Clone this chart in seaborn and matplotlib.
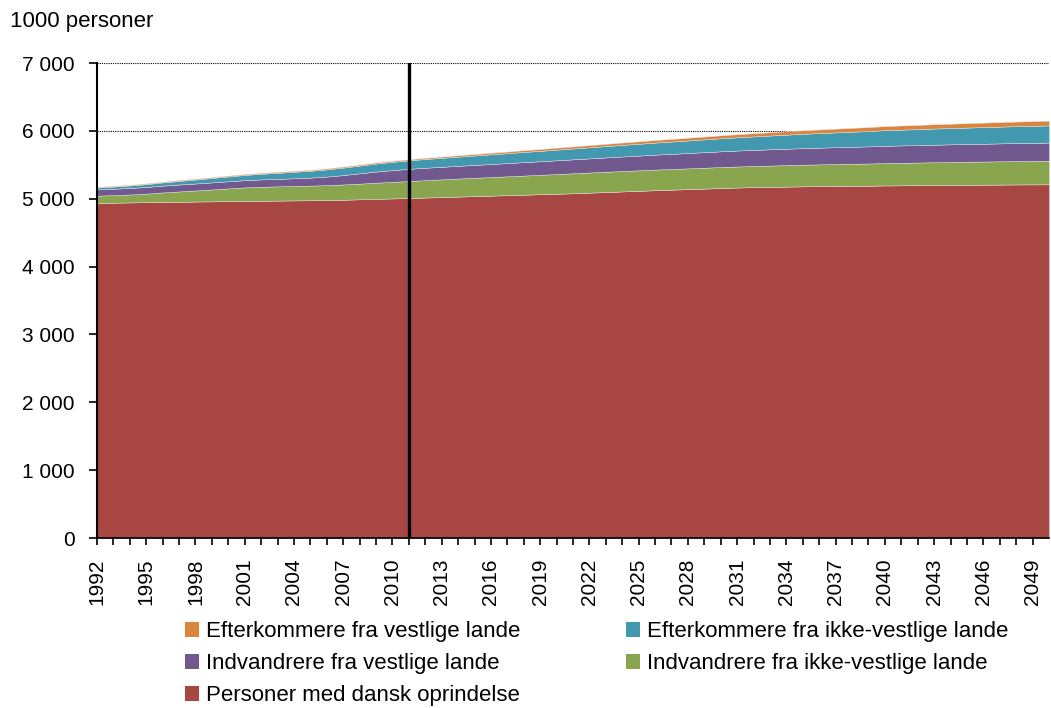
import matplotlib
matplotlib.use("Agg")
import matplotlib.pyplot as plt
import seaborn as sns
from matplotlib.patches import Patch

# år og befolkning (1000 personer)
years = list(range(1992, 2051))

dansk = [4937, 4941, 4945, 4949, 4952, 4955, 4958, 4961, 4964, 4967,
         4970, 4972, 4975, 4977, 4980, 4985, 4991, 4998, 5004, 5010,
         5017, 5024, 5031, 5038, 5045, 5052, 5059, 5066, 5073, 5080,
         5089, 5098, 5107, 5116, 5125, 5133, 5141, 5149, 5157, 5165,
         5170, 5174, 5178, 5182, 5185, 5188, 5190, 5192, 5195, 5197,
         5199, 5201, 5203, 5205, 5207, 5208, 5210, 5211, 5212]

indv_ikke_vest = [108, 112, 117, 125, 140, 152, 163, 175, 188, 200,
                  206, 210, 213, 216, 220, 225, 231, 238, 244, 250,
                  256, 261, 266, 270, 274, 278, 282, 286, 290, 295,
                  297, 299, 301, 302, 304, 305, 306, 308, 309, 310,
                  312, 314, 317, 319, 321, 323, 325, 327, 330, 332,
                  334, 336, 338, 340, 341, 343, 345, 346, 348]

indv_vest = [92, 94, 96, 99, 101, 102, 103, 104, 105, 106,
             108, 110, 113, 118, 126, 138, 152, 164, 173, 180,
             183, 185, 187, 190, 192, 195, 198, 200, 203, 205,
             208, 211, 214, 217, 220, 223, 226, 229, 232, 235,
             237, 240, 242, 244, 246, 248, 250, 252, 255, 256,
             257, 259, 260, 261, 262, 264, 265, 266, 267]

efterk_ikke_vest = [28, 32, 37, 42, 47, 53, 59, 65, 71, 77,
                    83, 89, 95, 100, 106, 110, 114, 118, 122, 125,
                    129, 132, 136, 139, 143, 146, 150, 153, 157, 160,
                    164, 167, 171, 174, 178, 181, 185, 188, 192, 195,
                    199, 203, 207, 211, 215, 218, 222, 226, 230, 233,
                    235, 238, 240, 242, 245, 247, 249, 251, 253]

efterk_vest = [10, 10, 11, 11, 11, 12, 12, 12, 13, 13,
               13, 14, 14, 14, 15, 15, 15, 16, 16, 16,
               17, 18, 20, 21, 23, 24, 26, 27, 29, 30,
               32, 33, 35, 36, 38, 39, 41, 42, 44, 45,
               47, 48, 50, 52, 53, 55, 57, 58, 60, 61,
               62, 63, 64, 65, 66, 67, 68, 69, 70]

labels = ['Personer med dansk oprindelse',
          'Indvandrere fra ikke-vestlige lande',
          'Indvandrere fra vestlige lande',
          'Efterkommere fra ikke-vestlige lande',
          'Efterkommere fra vestlige lande']
colors = ['#A84644', '#89A54E', '#71588F', '#4198AF', '#DB843D']

sns.set_theme(style='white')
plt.rcParams['font.family'] = ['Liberation Sans', 'DejaVu Sans']
plt.rcParams['text.color'] = 'black'
plt.rcParams['xtick.color'] = 'black'
plt.rcParams['ytick.color'] = 'black'

fig = plt.figure(figsize=(10.51, 7.08), dpi=100)
ax = fig.add_axes([97 / 1051, 1 - 538 / 708, 952 / 1051, 475 / 708])

ax.stackplot(years, dansk, indv_ikke_vest, indv_vest, efterk_ikke_vest, efterk_vest,
             colors=colors, edgecolor='#E8E8E8', linewidth=0.3, zorder=2)

# grid
for v in range(1000, 8000, 1000):
    ax.axhline(v, color='black', linestyle=(0, (1, 1)), linewidth=0.8, zorder=1)

ax.axvline(2011, color='black', linewidth=2.4, zorder=3)

ax.set_xlim(1992, 2050)
ax.set_ylim(0, 7000)
ax.set_yticks(range(0, 8000, 1000))
ax.set_yticklabels([f'{v:,}'.replace(',', ' ') for v in range(0, 8000, 1000)], fontsize=15)
ax.set_xticks(years[:-1])
ax.set_xticklabels([str(y) if (y - 1992) % 3 == 0 else '' for y in years[:-1]],
                   rotation=90, fontsize=15)

sns.despine(ax=ax, top=True, right=True)
ax.spines['left'].set_color('black')
ax.spines['left'].set_linewidth(1.5)
ax.spines['bottom'].set_color('black')
ax.spines['bottom'].set_linewidth(1.2)
ax.spines['left'].set_zorder(4)
ax.tick_params(axis='y', direction='out', length=6, width=1.2, color='black', pad=10, left=True)
ax.tick_params(axis='x', direction='out', length=5, width=1.2, color='black', pad=10, bottom=True)
ax.grid(False)

fig.text(10 / 1051, 1 - 22 / 708, '1000 personer', fontsize=16, va='center', ha='left')

order = [4, 2, 0, 3, 1]
handles = [Patch(facecolor=colors[i], edgecolor='none') for i in order]
fig.legend(handles, [labels[i] for i in order], ncol=2, frameon=False,
           loc='upper left', bbox_to_anchor=(185 / 1051, 1 - 621 / 708),
           fontsize=16, handlelength=0.65, handleheight=0.65, handletextpad=0.3,
           columnspacing=4.75, labelspacing=0.5, borderpad=0, borderaxespad=0)

fig.savefig('out.png', dpi=100)
